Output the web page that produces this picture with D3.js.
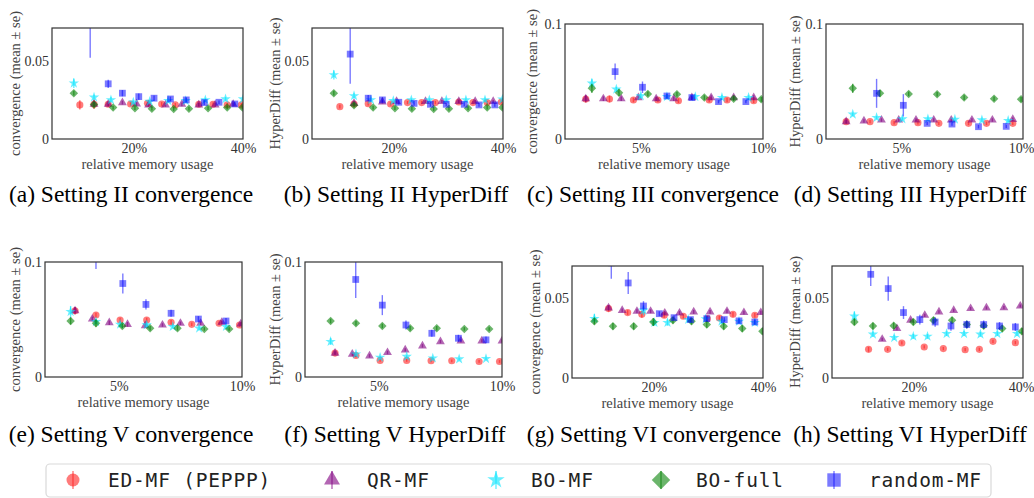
<!DOCTYPE html>
<html>
<head>
<meta charset="utf-8">
<script src="https://cdn.jsdelivr.net/npm/d3@7"></script>
<style>
  body { margin: 0; background: #fff; }
</style>
</head>
<body>
<div id="chart"></div>
<script>

// methods shown in every panel (legend order)
var methods = ["ED-MF (PEPPP)", "QR-MF", "BO-MF", "BO-full", "random-MF"];
var methodKeys = ["ed", "qr", "bomf", "bofull", "rnd"];

// tick values
var ticksLow = [20, 40];      // % memory, settings II and VI
var ticksHigh = [5, 10];      // % memory, settings III and V
var yTicksSmall = [0, 0.05];
var yTicksBig = [0, 0.1];

// each point: [relative memory %, mean, se]
var setIIConv = {
    ed: [[10.1,0.0218,0.003],[12.7,0.0222,0.003],[15.3,0.0222,0.0015],[19.4,0.0224,0.0012],[22.5,0.0228,0.0012],[25.1,0.0224,0.0012],[27.6,0.0218,0.0012],[31.9,0.0222,0.0012],[34.5,0.0222,0.0012],[37.1,0.0218,0.0012],[39.7,0.0218,0.0012]],
    qr: [[12.7,0.0222,0.0015],[15.3,0.0222,0.0012],[17.9,0.0233,0.0012],[20.5,0.0224,0.0012],[22.7,0.0218,0.0012],[25.8,0.0218,0.0012],[28.8,0.0222,0.0012],[31.9,0.0218,0.0012],[34.9,0.0218,0.0012],[38.2,0.0222,0.0012]],
    bomf: [[9.0,0.0357,0.003],[12.7,0.0267,0.0015],[15.8,0.025,0.0015],[19.9,0.0235,0.0012],[22.9,0.024,0.0012],[26.3,0.0245,0.0012],[29.5,0.0245,0.0012],[33.1,0.025,0.0012],[36.8,0.0256,0.0012],[40.0,0.0256,0.0012]],
    bofull: [[9.0,0.0293,0.0015],[12.7,0.022,0.0015],[16.2,0.0201,0.0012],[20.2,0.0197,0.0012],[23.3,0.0194,0.0012],[27.3,0.0192,0.0012],[30.1,0.0194,0.0012],[33.6,0.0197,0.0012],[37.1,0.0201,0.0012],[39.9,0.0201,0.0012]],
    rnd: [[12.0,0.085,0.033],[15.3,0.0353,0.0026],[17.9,0.0293,0.002],[20.9,0.0271,0.002],[23.7,0.0261,0.0018],[26.7,0.0256,0.0015],[29.6,0.025,0.0015],[32.9,0.0233,0.0015],[35.6,0.0235,0.0012],[38.5,0.0224,0.0012]]
};

var setIIDiff = {
    ed: [[10.1,0.0207,0.0012],[12.7,0.0224,0.0015],[15.3,0.0226,0.0012],[19.4,0.0224,0.001],[22.5,0.0233,0.001],[25.1,0.0233,0.001],[27.6,0.0233,0.001],[31.9,0.0237,0.001],[34.5,0.0233,0.001],[37.1,0.0233,0.001],[39.7,0.0237,0.001]],
    qr: [[12.7,0.0228,0.0012],[17.9,0.0237,0.001],[20.5,0.024,0.001],[25.8,0.024,0.001],[28.8,0.024,0.001],[31.9,0.024,0.001],[34.9,0.024,0.001],[38.2,0.024,0.001]],
    bomf: [[9.0,0.041,0.003],[12.7,0.0276,0.0015],[15.8,0.025,0.0012],[19.9,0.0245,0.001],[23.2,0.025,0.001],[26.5,0.025,0.001],[29.6,0.025,0.001],[33.2,0.025,0.001],[36.7,0.025,0.001],[39.9,0.0254,0.001]],
    bofull: [[9.0,0.0293,0.0015],[12.7,0.0216,0.0015],[16.2,0.0201,0.0012],[20.2,0.0197,0.0012],[23.3,0.0194,0.0012],[27.3,0.0192,0.0012],[30.1,0.0194,0.0012],[33.6,0.0197,0.0012],[37.1,0.0201,0.0012],[39.9,0.0201,0.0012]],
    rnd: [[12.0,0.0543,0.019],[15.3,0.0261,0.002],[17.9,0.025,0.0015],[20.9,0.0235,0.0015],[23.7,0.0228,0.0015],[26.7,0.0222,0.0015],[29.6,0.0222,0.0012],[32.9,0.0222,0.0012],[35.6,0.0218,0.0012],[38.5,0.0218,0.0012]]
};

var setIIIConv = {
    ed: [[2.75,0.0348,0.003],[3.72,0.0348,0.003],[4.7,0.0339,0.002],[5.7,0.0339,0.002],[6.54,0.0333,0.002],[7.8,0.0339,0.002],[8.53,0.0339,0.002],[9.62,0.0333,0.002]],
    qr: [[2.75,0.035,0.003],[3.47,0.035,0.002],[4.2,0.035,0.002],[4.9,0.036,0.002],[5.63,0.035,0.002],[6.35,0.035,0.002],[7.09,0.036,0.002],[7.88,0.036,0.002],[8.8,0.036,0.002],[9.62,0.036,0.002]],
    bomf: [[3.0,0.0485,0.004],[4.0,0.0432,0.002],[5.0,0.0374,0.002],[6.07,0.0368,0.002],[7.23,0.0368,0.002],[8.32,0.036,0.002],[9.41,0.036,0.002]],
    bofull: [[3.0,0.0441,0.004],[4.11,0.0403,0.003],[5.29,0.0392,0.002],[6.48,0.0389,0.002],[7.6,0.036,0.002],[8.8,0.035,0.002],[9.93,0.0345,0.002]],
    rnd: [[3.95,0.0586,0.007],[5.07,0.045,0.005],[6.07,0.0374,0.002],[7.09,0.036,0.002],[8.18,0.0325,0.0015],[9.3,0.0325,0.0015]]
};

var setIIIDiff = {
    ed: [[2.73,0.0151,0.002],[3.71,0.0151,0.0015],[4.7,0.0142,0.0015],[5.68,0.0142,0.0015],[6.54,0.0136,0.0015],[7.76,0.0136,0.0015],[8.5,0.0136,0.0015],[9.58,0.0136,0.0015]],
    qr: [[2.73,0.0151,0.0015],[3.46,0.0157,0.0015],[4.18,0.0165,0.0015],[4.89,0.0165,0.0015],[5.6,0.0165,0.0015],[6.33,0.0165,0.0015],[7.05,0.0165,0.0015],[7.9,0.0165,0.0015],[8.74,0.0165,0.0015],[9.58,0.0171,0.0015]],
    bomf: [[3.0,0.0215,0.0015],[3.98,0.0186,0.0015],[5.04,0.0174,0.0015],[6.09,0.0174,0.0015],[7.2,0.0171,0.0015],[8.31,0.0165,0.0015],[9.39,0.016,0.0015]],
    bofull: [[3.0,0.0441,0.004],[4.12,0.0397,0.003],[5.3,0.0392,0.002],[6.47,0.0389,0.002],[7.58,0.036,0.002],[8.81,0.035,0.002],[9.92,0.0345,0.002]],
    rnd: [[3.98,0.0397,0.0126],[5.08,0.0293,0.0097],[6.06,0.0136,0.0015],[7.08,0.013,0.0015],[8.17,0.0107,0.0015],[9.31,0.011,0.0015]]
};

var setVConv = {
    ed: [[3.22,0.0576,0.003],[4.07,0.0539,0.002],[5.05,0.0496,0.002],[6.13,0.0496,0.002],[7.12,0.0476,0.002],[7.96,0.0458,0.0015],[9.07,0.0467,0.0015],[9.9,0.0452,0.0015]],
    qr: [[3.22,0.0576,0.003],[3.92,0.0504,0.002],[4.61,0.0472,0.002],[5.35,0.0458,0.002],[6.07,0.0446,0.002],[6.77,0.0452,0.0015],[7.5,0.0467,0.0015],[8.32,0.0467,0.0015],[9.18,0.0476,0.0015],[9.95,0.0461,0.0015]],
    bomf: [[3.04,0.0568,0.005],[4.07,0.0481,0.002],[5.05,0.0458,0.002],[6.13,0.0452,0.002],[7.19,0.0438,0.0015],[8.26,0.0424,0.0015],[9.35,0.0438,0.0015]],
    bofull: [[3.04,0.0487,0.003],[4.07,0.0467,0.003],[5.14,0.0444,0.002],[6.27,0.0424,0.002],[7.38,0.0424,0.002],[8.47,0.0418,0.0015],[9.48,0.0418,0.0015]],
    rnd: [[4.07,0.115,0.021],[5.16,0.0813,0.0087],[6.1,0.0631,0.0045],[7.12,0.0554,0.003],[8.23,0.0504,0.0025],[9.35,0.0487,0.0025]]
};

var setVDiff = {
    ed: [[3.22,0.0208,0.0015],[4.07,0.0187,0.0015],[5.05,0.0144,0.0012],[6.13,0.0144,0.0012],[7.12,0.0141,0.0012],[7.96,0.0141,0.0012],[9.07,0.0135,0.0012],[9.9,0.0135,0.0012]],
    qr: [[3.22,0.0208,0.0015],[3.92,0.0199,0.0015],[4.62,0.0184,0.0015],[5.35,0.0213,0.0015],[6.07,0.0236,0.0015],[6.77,0.0271,0.0015],[7.5,0.0308,0.0015],[8.33,0.0314,0.0015],[9.18,0.0314,0.0015],[10.0,0.0314,0.0015]],
    bomf: [[3.04,0.0308,0.003],[4.07,0.0199,0.0015],[5.05,0.017,0.0012],[6.13,0.0178,0.0012],[7.19,0.0164,0.0012],[8.26,0.0156,0.0012],[9.35,0.0159,0.0012]],
    bofull: [[3.04,0.0487,0.002],[4.07,0.0467,0.002],[5.14,0.0444,0.002],[6.27,0.0424,0.002],[7.35,0.0424,0.002],[8.47,0.0418,0.0015],[9.48,0.0418,0.0015]],
    rnd: [[4.06,0.0848,0.016],[5.14,0.0625,0.0087],[6.1,0.0452,0.004],[7.15,0.038,0.003],[8.23,0.0337,0.003],[9.35,0.0323,0.003]]
};

var setVIConv = {
    ed: [[11.7,0.0434,0.002],[15.2,0.0409,0.0015],[17.8,0.0398,0.002],[21.9,0.0392,0.0015],[25.4,0.0386,0.0015],[29.8,0.0371,0.0015],[32.0,0.0375,0.0015],[34.5,0.0398,0.0015],[38.5,0.0392,0.0015]],
    qr: [[11.7,0.0438,0.0015],[14.2,0.0423,0.0012],[16.9,0.0417,0.0012],[19.4,0.0417,0.0012],[22.0,0.0406,0.0012],[24.7,0.0406,0.0012],[27.3,0.0413,0.0012],[30.3,0.0413,0.0012],[33.4,0.0417,0.0012],[36.5,0.0409,0.0012],[39.6,0.0409,0.0012]],
    bomf: [[9.1,0.0371,0.003],[18.1,0.0423,0.003],[20.1,0.0346,0.002],[22.5,0.0346,0.002],[26.3,0.0365,0.0015],[29.5,0.0369,0.0015],[32.4,0.0354,0.0015],[35.6,0.0354,0.0015],[38.5,0.0346,0.0015]],
    bofull: [[9.1,0.0354,0.002],[12.5,0.0323,0.002],[16.3,0.0323,0.002],[19.9,0.035,0.0025],[23.5,0.0361,0.002],[26.9,0.0354,0.002],[29.7,0.0334,0.002],[32.8,0.0323,0.002],[36.2,0.0309,0.002],[39.9,0.0292,0.002]],
    rnd: [[12.2,0.072,0.01],[15.3,0.0594,0.0069],[18.1,0.045,0.003],[21.0,0.0402,0.0015],[23.7,0.0377,0.0015],[26.7,0.0365,0.0015],[29.7,0.0371,0.0015],[32.9,0.0365,0.0015],[35.6,0.0357,0.0015],[38.5,0.035,0.0015]]
};

var setVIDiff = {
    ed: [[11.7,0.0179,0.0015],[15.2,0.0179,0.001],[17.8,0.0219,0.001],[21.9,0.0194,0.001],[25.4,0.0184,0.001],[29.4,0.0177,0.001],[32.0,0.0179,0.001],[34.5,0.0229,0.001],[38.6,0.0221,0.001]],
    qr: [[14.2,0.0242,0.001],[16.9,0.0309,0.001],[19.4,0.0361,0.001],[22.0,0.0392,0.001],[24.6,0.0413,0.001],[27.3,0.0423,0.001],[30.4,0.0434,0.001],[33.3,0.0438,0.001],[36.5,0.044,0.001],[39.5,0.045,0.001]],
    bomf: [[9.1,0.0386,0.003],[12.5,0.0273,0.0015],[16.4,0.0252,0.0015],[19.9,0.026,0.0015],[22.5,0.026,0.0015],[26.0,0.0277,0.0015],[29.2,0.0277,0.0015],[32.2,0.0273,0.0015],[35.3,0.0277,0.0015],[38.9,0.0277,0.0015]],
    bofull: [[9.1,0.035,0.002],[12.5,0.0325,0.002],[16.3,0.0327,0.002],[19.9,0.035,0.002],[23.6,0.0361,0.002],[27.0,0.0361,0.002],[29.7,0.0334,0.002],[32.8,0.0327,0.002],[36.2,0.0309,0.002],[39.8,0.0292,0.002]],
    rnd: [[12.1,0.0648,0.0073],[15.3,0.0559,0.0076],[18.1,0.0409,0.004],[21.1,0.0365,0.003],[23.9,0.035,0.003],[26.8,0.0325,0.003],[29.7,0.0334,0.0025],[32.8,0.0334,0.0025],[35.7,0.0325,0.0025],[38.6,0.0319,0.0025]]
};

var captions = ["(a) Setting II convergence", "(b) Setting II HyperDiff", "(c) Setting III convergence", "(d) Setting III HyperDiff",
                "(e) Setting V convergence", "(f) Setting V HyperDiff", "(g) Setting VI convergence", "(h) Setting VI HyperDiff"];

// panel layout (frame box in px, caption centre)
var panels = [
    {data: setIIConv,  ylab: "convergence", l: 52,  r: 243,  t: 28,  b: 139, xd: [5, 40],  yd: [0, 0.071], xt: ticksLow,  yt: yTicksSmall, lo: 37, cx: 131, cy: 202},
    {data: setIIDiff,  ylab: "HyperDiff",   l: 312, r: 503,  t: 28,  b: 139, xd: [5, 40],  yd: [0, 0.071], xt: ticksLow,  yt: yTicksSmall, lo: 37, cx: 396, cy: 202},
    {data: setIIIConv, ylab: "convergence", l: 565, r: 763,  t: 24,  b: 139, xd: [1.9, 10], yd: [0, 0.1], xt: ticksHigh, yt: yTicksBig,   lo: 33, cx: 653, cy: 202},
    {data: setIIIDiff, ylab: "HyperDiff",   l: 826, r: 1023, t: 24,  b: 139, xd: [1.9, 10], yd: [0, 0.1], xt: ticksHigh, yt: yTicksBig,   lo: 31, cx: 910, cy: 202},
    {data: setVConv,   ylab: "convergence", l: 45,  r: 242,  t: 262, b: 377, xd: [2, 10],  yd: [0, 0.1],   xt: ticksHigh, yt: yTicksBig,   lo: 30, cx: 131, cy: 442},
    {data: setVDiff,   ylab: "HyperDiff",   l: 305, r: 502,  t: 262, b: 377, xd: [2, 10],  yd: [0, 0.1],   xt: ticksHigh, yt: yTicksBig,   lo: 30, cx: 395, cy: 442},
    {data: setVIConv,  ylab: "convergence", l: 572, r: 763,  t: 266, b: 378, xd: [5, 40],  yd: [0, 0.07],  xt: ticksLow,  yt: yTicksSmall, lo: 37, cx: 654, cy: 442},
    {data: setVIDiff,  ylab: "HyperDiff",   l: 832, r: 1023, t: 266, b: 378, xd: [5, 40],  yd: [0, 0.07],  xt: ticksLow,  yt: yTicksSmall, lo: 37, cx: 910, cy: 442}
];

// marker styling per method
var colors = ["#ff1a1a", "#800080", "#00e5ff", "#008000", "#0000ff"];
var alphas = [0.58, 0.6, 0.6, 0.58, 0.52];
var shapes = [d3.symbolCircle, d3.symbolTriangle, d3.symbolStar, d3.symbolSquare, d3.symbolSquare];
var rot = [0, 0, 0, 45, 0];
var sizes = [40, 34, 34, 36, 46];
var legSizes = [133, 110, 95, 170, 180];

var serif = "'Liberation Serif', 'Times New Roman', serif";

var svg = d3.select("#chart")
    .append("svg")
    .attr("width", 1034)
    .attr("height", 498);

panels.forEach(function(p, pi) {

    var x = d3.scaleLinear().domain(p.xd).range([p.l, p.r]);
    var y = d3.scaleLinear().domain(p.yd).range([p.b, p.t]);

    // clip marks to the axes box
    svg.append("clipPath")
        .attr("id", "clip" + pi)
        .append("rect")
        .attr("x", p.l).attr("y", p.t)
        .attr("width", p.r - p.l).attr("height", p.b - p.t);

    var g = svg.append("g").attr("clip-path", "url(#clip" + pi + ")");

    methodKeys.forEach(function(k, mi) {
        var pts = p.data[k];
        var mg = g.append("g")
            .attr("fill", colors[mi])
            .attr("stroke", colors[mi]);

        // error bars
        mg.selectAll("line")
            .data(pts)
            .enter()
            .append("line")
            .attr("x1", d => x(d[0]))
            .attr("x2", d => x(d[0]))
            .attr("y1", d => y(d[1] - d[2]))
            .attr("y2", d => y(d[1] + d[2]))
            .attr("stroke-width", 1.4)
            .attr("stroke-opacity", alphas[mi]);

        // markers
        mg.selectAll("path")
            .data(pts)
            .enter()
            .append("path")
            .attr("d", d3.symbol().type(shapes[mi]).size(sizes[mi]))
            .attr("transform", d => `translate(${x(d[0])},${y(d[1])}) rotate(${rot[mi]})`)
            .attr("stroke", "none")
            .attr("fill-opacity", alphas[mi]);
    });

    // frame
    svg.append("rect")
        .attr("x", p.l).attr("y", p.t)
        .attr("width", p.r - p.l).attr("height", p.b - p.t)
        .attr("fill", "none")
        .attr("stroke", "#333")
        .attr("stroke-width", 1.2);

    // axes
    var bottomAxis = d3.axisBottom(x).tickValues(p.xt).tickSize(0).tickPadding(0)
        .tickFormat(d => d + "%");
    var leftAxis = d3.axisLeft(y).tickValues(p.yt).tickSize(0).tickPadding(3)
        .tickFormat(d => d === 0 ? "0" : String(d));

    var xg = svg.append("g").attr("transform", `translate(0, ${p.b})`).call(bottomAxis);
    var yg = svg.append("g").attr("transform", `translate(${p.l}, 0)`).call(leftAxis);
    [xg, yg].forEach(function(a) {
        a.select(".domain").remove();
        a.selectAll("text")
            .style("font-family", serif)
            .style("font-size", "14px")
            .attr("fill", "#333");
    });
    xg.selectAll("text").attr("y", 9).attr("dy", "0.35em");

    // keep the right-most tick label inside the page
    xg.selectAll(".tick").each(function(d) {
        var over = x(d) + 13 - 1034;
        if (over > 0) d3.select(this).select("text").attr("dx", -over);
    });

    // axis labels
    svg.append("text")
        .attr("x", (p.l + p.r) / 2)
        .attr("y", p.b + 25)
        .attr("dy", "0.35em")
        .attr("text-anchor", "middle")
        .style("font-family", serif)
        .style("font-size", "14.5px")
        .attr("fill", "#444")
        .text("relative memory usage");

    svg.append("text")
        .attr("transform", `translate(${p.l - p.lo}, ${(p.t + p.b) / 2}) rotate(-90)`)
        .attr("dy", "0.35em")
        .attr("text-anchor", "middle")
        .style("font-family", serif)
        .style("font-size", "14.5px")
        .attr("fill", "#444")
        .text(p.ylab + " (mean \u00b1 se)");

    // subfigure caption
    svg.append("text")
        .attr("x", p.cx)
        .attr("y", p.cy)
        .attr("text-anchor", "middle")
        .style("font-family", serif)
        .style("font-size", "23.5px")
        .attr("fill", "#000")
        .text(captions[pi]);
});

// legend
var legX = [73, 332, 496, 661, 834];
var legY = 480;

svg.append("rect")
    .attr("x", 46).attr("y", 464)
    .attr("width", 945).attr("height", 33)
    .attr("rx", 4)
    .attr("fill", "#fff")
    .attr("stroke", "#d9d9d9")
    .attr("stroke-width", 1.2);

var legend = svg.selectAll(".leg")
    .data(methods)
    .enter()
    .append("g")
    .attr("class", "leg")
    .attr("transform", (d, i) => `translate(${legX[i]}, ${legY})`);

legend.append("line")
    .attr("y1", -9).attr("y2", 9)
    .attr("stroke", (d, i) => colors[i])
    .attr("stroke-opacity", (d, i) => alphas[i])
    .attr("stroke-width", 1.4);

legend.append("path")
    .attr("d", (d, i) => d3.symbol().type(shapes[i]).size(legSizes[i])())
    .attr("transform", (d, i) => `rotate(${rot[i]})`)
    .attr("fill", (d, i) => colors[i])
    .attr("fill-opacity", (d, i) => alphas[i]);

legend.append("text")
    .attr("x", 35)
    .attr("y", 6.5)
    .style("font-family", "'DejaVu Sans Mono', monospace")
    .style("font-size", "19.5px")
    .style("letter-spacing", "0.8px")
    .attr("fill", "#222")
    .text(d => d);

</script>
</body>
</html>
